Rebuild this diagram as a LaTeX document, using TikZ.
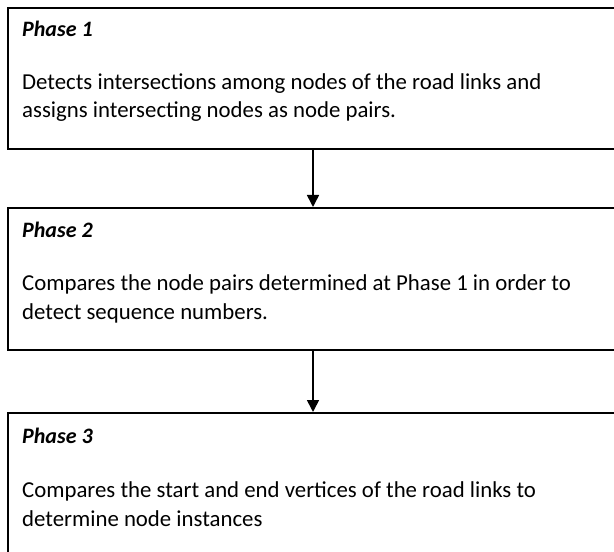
\documentclass[tikz,border=0pt]{standalone}
\usepackage{fontspec}
\setmainfont{Carlito}
\usetikzlibrary{arrows.meta}
\begin{document}
\begin{tikzpicture}[x=1bp,y=-1bp,
  phasebox/.style={draw=black,line width=1.6bp,rectangle,anchor=north west,inner sep=0pt,minimum width=612bp},
  title/.style={anchor=base west,inner sep=0pt,font=\fontsize{22bp}{27bp}\selectfont\bfseries\itshape},
  body/.style={anchor=base west,inner sep=0pt,font=\fontsize{22.8bp}{28bp}\selectfont},
  flow/.style={draw=black,line width=1.6bp,-{Triangle[length=12bp,width=12bp]}}]
\useasboundingbox (0,0) rectangle (614,552);
\node[phasebox,minimum height=141bp] (b1) at (7,7) {};
\node[phasebox,minimum height=142bp] (b2) at (7,207) {};
\node[phasebox,minimum height=160bp] (b3) at (7,412) {};
\node[title] (t1) at (22,36.5) {Phase 1};
\node[body] (l1a) at (22,89.5) {Detects intersections among nodes of the road links and};
\node[body] (l1b) at (22,117.5) {assigns intersecting nodes as node pairs.};
\node[title] (t2) at (22,237.5) {Phase 2};
\node[body] (l2a) at (22,290.5) {Compares the node pairs determined at Phase 1 in order to};
\node[body] (l2b) at (22,319.5) {detect sequence numbers.};
\node[title] (t3) at (22,443.5) {Phase 3};
\node[body] (l3a) at (22,497.5) {Compares the start and end vertices of the road links to};
\node[body] (l3b) at (22,526.5) {determine node instances};
\draw[flow] (b1.south -| 313,0) -- (b2.north -| 313,0);
\draw[flow] (b2.south -| 313,0) -- (b3.north -| 313,0);
\end{tikzpicture}
\end{document}
